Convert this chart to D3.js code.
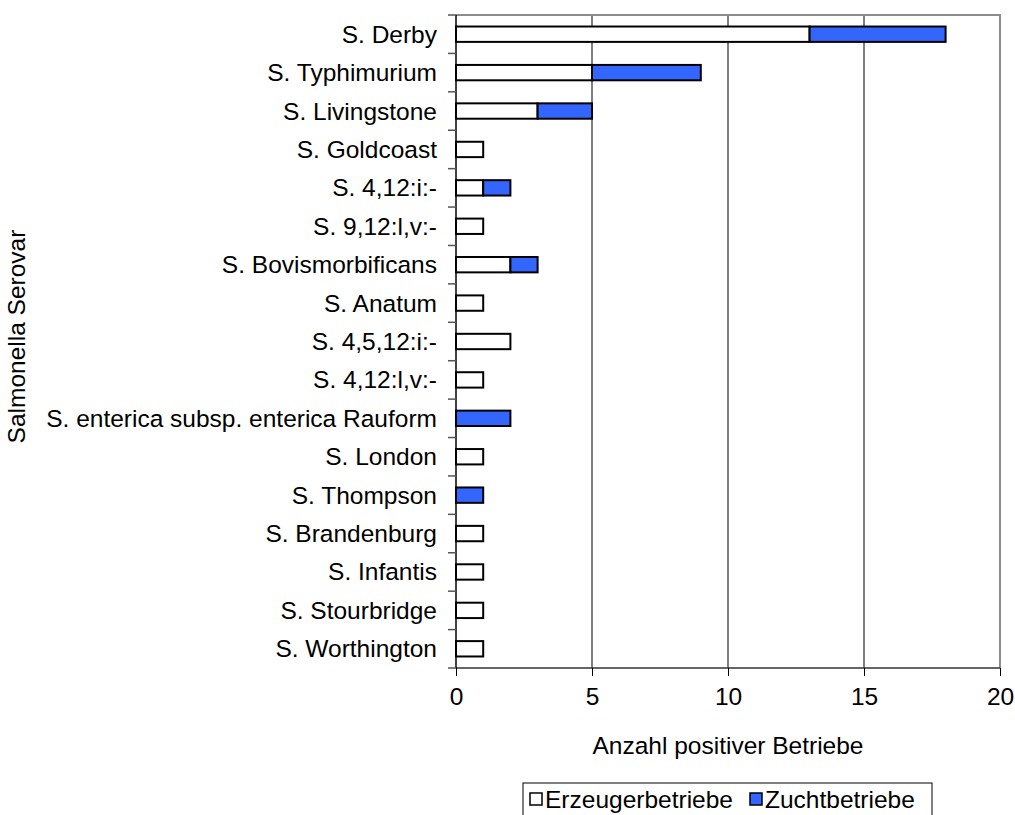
<!DOCTYPE html>
<html>
<head>
<meta charset="utf-8">
<script src="https://cdn.jsdelivr.net/npm/d3@7"></script>
<style>
  html, body { margin: 0; padding: 0; background: #fff; }
  text { font-family: "Liberation Sans", Arial, sans-serif; fill: #000; }
</style>
</head>
<body>
<svg id="chart" width="1015" height="815"></svg>
<script>
// Serovars, top to bottom
const serovars = [
  "S. Derby", "S. Typhimurium", "S. Livingstone", "S. Goldcoast", "S. 4,12:i:-",
  "S. 9,12:l,v:-", "S. Bovismorbificans", "S. Anatum", "S. 4,5,12:i:-", "S. 4,12:l,v:-",
  "S. enterica subsp. enterica Rauform", "S. London", "S. Thompson", "S. Brandenburg",
  "S. Infantis", "S. Stourbridge", "S. Worthington"
];
// Positive farms per serovar
const erzeuger = [13, 5, 3, 1, 1, 1, 2, 1, 2, 1, 0, 1, 0, 1, 1, 1, 1];
const zucht    = [5, 4, 2, 0, 1, 0, 1, 0, 0, 0, 2, 0, 1, 0, 0, 0, 0];
const seriesNames = ["Erzeugerbetriebe", "Zuchtbetriebe"];
const seriesColors = ["#ffffff", "#3366ff"];
const xTicks = [0, 5, 10, 15, 20];

const FS = 24.5;
const svg = d3.select("#chart");
const m = { left: 456, right: 1000, top: 15, bottom: 668 };

const x = d3.scaleLinear().domain([0, 20]).range([m.left, m.right]);
const y = d3.scaleBand().domain(serovars).range([m.top, m.bottom]).paddingInner(0.6).paddingOuter(0.3);

const rows = serovars.map((s, i) => ({ s, a: erzeuger[i], b: zucht[i] }));
const stack = d3.stack().keys(["a", "b"])(rows);

// Vertical gridlines
svg.append("g").selectAll("line").data(xTicks.slice(1, -1)).join("line")
  .attr("x1", d => x(d)).attr("x2", d => x(d))
  .attr("y1", m.top).attr("y2", m.bottom)
  .attr("stroke", "#000").attr("stroke-width", 1);

// Plot frame (top and right)
svg.append("path")
  .attr("d", `M${m.left},${m.top}H${m.right}V${m.bottom}`)
  .attr("fill", "none").attr("stroke", "#8c8c8c").attr("stroke-width", 2);

// Stacked bars
stack.forEach((layer, k) => {
  svg.append("g").selectAll("rect").data(layer.filter(d => d[1] > d[0])).join("rect")
    .attr("x", d => x(d[0]))
    .attr("y", d => y(d.data.s))
    .attr("width", d => x(d[1]) - x(d[0]))
    .attr("height", y.bandwidth())
    .attr("fill", seriesColors[k])
    .attr("stroke", "#000").attr("stroke-width", 2);
});

// X axis
const xAxis = svg.append("g").attr("transform", `translate(0,${m.bottom})`)
  .call(d3.axisBottom(x).tickValues(xTicks).tickSize(8).tickPadding(12).tickFormat(d3.format("d")));
xAxis.select(".domain").attr("stroke", "#333").attr("stroke-width", 1.5).attr("d", `M${m.left},0H${m.right}`);
xAxis.selectAll(".tick line").attr("stroke", "#000");
xAxis.selectAll("text").attr("font-size", FS).style("font-family", "Liberation Sans, Arial, sans-serif");

// Y axis: labels centred on bars, ticks on band boundaries
const yAxis = svg.append("g").attr("transform", `translate(${m.left},0)`);
yAxis.append("line").attr("x1", 0).attr("x2", 0).attr("y1", m.top).attr("y2", m.bottom)
  .attr("stroke", "#000").attr("stroke-width", 1.5);
const step = (m.bottom - m.top) / serovars.length;
yAxis.selectAll("line.tk").data(d3.range(serovars.length + 1)).join("line")
  .attr("class", "tk")
  .attr("x1", -8).attr("x2", 0)
  .attr("y1", i => m.top + i * step).attr("y2", i => m.top + i * step)
  .attr("stroke", "#555").attr("stroke-width", 1.5);
yAxis.selectAll("text").data(serovars).join("text")
  .attr("x", -19).attr("y", d => y(d) + y.bandwidth() / 2)
  .attr("text-anchor", "end").attr("dominant-baseline", "central")
  .attr("font-size", FS).text(d => d);

// Axis titles
svg.append("text").attr("x", x(10)).attr("y", 754).attr("text-anchor", "middle")
  .attr("font-size", FS).text("Anzahl positiver Betriebe");
svg.append("text").attr("transform", `translate(25,${(m.top + m.bottom) / 2 - 5}) rotate(-90)`)
  .attr("text-anchor", "middle").attr("font-size", FS).text("Salmonella Serovar");

// Legend
const lg = svg.append("g");
lg.append("rect").attr("x", 523).attr("y", 783).attr("width", 409).attr("height", 40)
  .attr("fill", "#fff").attr("stroke", "#000").attr("stroke-width", 1);
const lx = [530, 750];
seriesNames.forEach((n, i) => {
  lg.append("rect").attr("x", lx[i]).attr("y", 793).attr("width", 12).attr("height", 12)
    .attr("fill", seriesColors[i]).attr("stroke", "#000").attr("stroke-width", 1.5);
  lg.append("text").attr("x", lx[i] + 15).attr("y", 808).attr("font-size", FS).text(n);
});
</script>
</body>
</html>
